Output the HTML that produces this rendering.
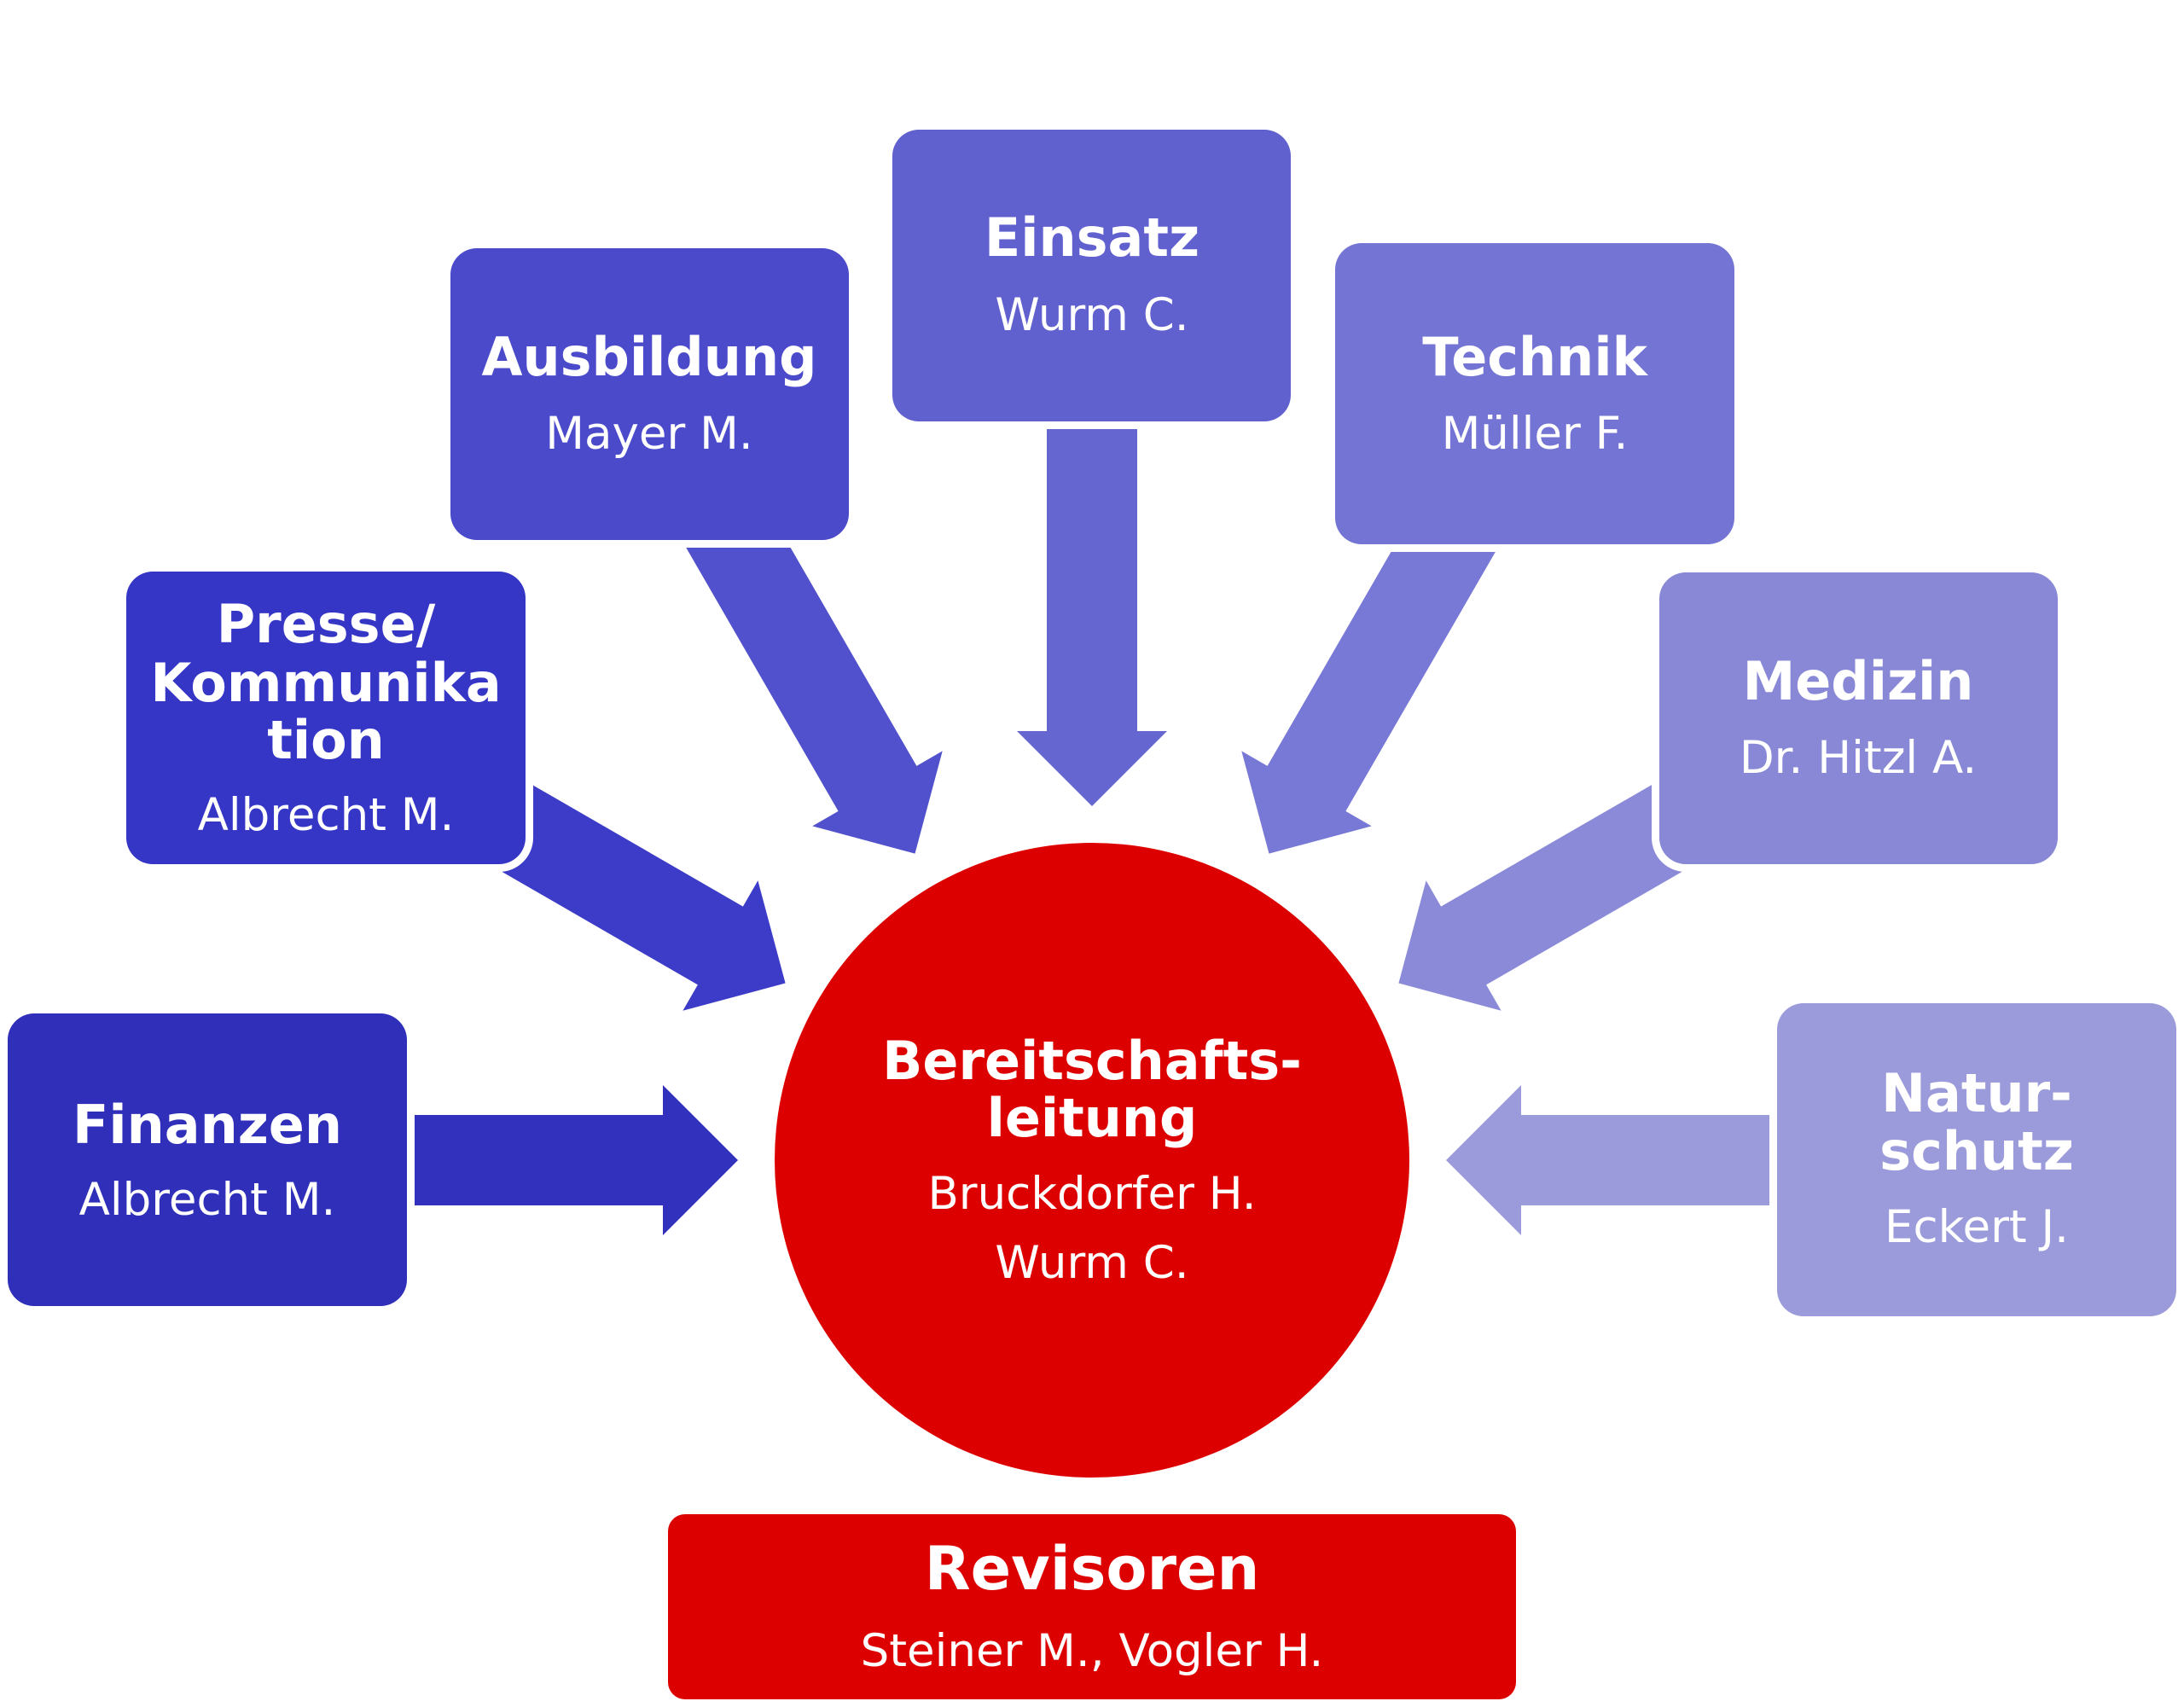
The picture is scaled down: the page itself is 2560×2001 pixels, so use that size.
<!DOCTYPE html>
<html>
<head>
<meta charset="utf-8">
<style>
  html,body{margin:0;padding:0;background:#fff;}
  svg{display:block;}
  .t{font-family:"DejaVu Sans","Liberation Sans",sans-serif;fill:#fff;text-anchor:middle;}
  .b{font-weight:bold;font-size:62px;}
  .n{font-size:53px;}
</style>
</head>
<body>
<svg width="2560" height="2001" viewBox="0 0 2560 2001" xmlns="http://www.w3.org/2000/svg">
  <rect width="2560" height="2001" fill="#fff"/>

  <!-- arrows -->
  <g transform="translate(1280,1360)">
    <polygon transform="rotate(-90)" fill="#3131bd" points="0,-415 88,-503 53,-503 53,-1000 -53,-1000 -53,-503 -88,-503"/>
    <polygon transform="rotate(-60)" fill="#3c3cc8" points="0,-415 88,-503 53,-503 53,-1000 -53,-1000 -53,-503 -88,-503"/>
    <polygon transform="rotate(-30)" fill="#5151cd" points="0,-415 88,-503 53,-503 53,-1000 -53,-1000 -53,-503 -88,-503"/>
    <polygon transform="rotate(0)" fill="#6666d0" points="0,-415 88,-503 53,-503 53,-1000 -53,-1000 -53,-503 -88,-503"/>
    <polygon transform="rotate(30)" fill="#7878d6" points="0,-415 88,-503 53,-503 53,-1000 -53,-1000 -53,-503 -88,-503"/>
    <polygon transform="rotate(60)" fill="#8a8ad8" points="0,-415 88,-503 53,-503 53,-1000 -53,-1000 -53,-503 -88,-503"/>
    <polygon transform="rotate(90)" fill="#9b9bdb" points="0,-415 88,-503 53,-503 53,-1000 -53,-1000 -53,-503 -88,-503"/>
  </g>

  <!-- white outlines of boxes -->
  <g fill="#fff">
    <rect x="0" y="1179" width="486" height="361" rx="40"/>
    <rect x="139" y="661" width="486" height="361" rx="40"/>
    <rect x="519" y="282" width="485" height="360" rx="40"/>
    <rect x="1037" y="143" width="485" height="360" rx="40"/>
    <rect x="1556" y="276" width="486" height="371" rx="40"/>
    <rect x="1936" y="662" width="485" height="360" rx="40"/>
    <rect x="2074" y="1167" width="486" height="385" rx="40"/>
  </g>

  <!-- boxes -->
  <rect x="9" y="1188" width="468" height="343" rx="31" fill="#2f2fba"/>
  <rect x="148" y="670" width="468" height="343" rx="31" fill="#3535c6"/>
  <rect x="528" y="291" width="467" height="342" rx="31" fill="#4a4acb"/>
  <rect x="1046" y="152" width="467" height="342" rx="31" fill="#6060cf"/>
  <rect x="1565" y="285" width="468" height="353" rx="31" fill="#7474d4"/>
  <rect x="1945" y="671" width="467" height="342" rx="31" fill="#8888d6"/>
  <rect x="2083" y="1176" width="468" height="367" rx="31" fill="#9b9bdb"/>

  <!-- circle -->
  <circle cx="1280" cy="1360" r="372" fill="#dd0000"/>

  <!-- Revisoren -->
  <rect x="783" y="1775" width="994" height="217" rx="20" fill="#dd0000"/>

  <!-- texts -->
  <text class="t b" x="243" y="1340">Finanzen</text>
  <text class="t n" x="243" y="1424">Albrecht M.</text>

  <text class="t b" x="382" y="753">Presse/</text>
  <text class="t b" x="382" y="822">Kommunika</text>
  <text class="t b" x="382" y="889">tion</text>
  <text class="t n" x="382" y="973">Albrecht M.</text>

  <text class="t b" x="761" y="440">Ausbildung</text>
  <text class="t n" x="761" y="526">Mayer M.</text>

  <text class="t b" x="1280" y="300">Einsatz</text>
  <text class="t n" x="1280" y="387">Wurm C.</text>

  <text class="t b" x="1799" y="440">Technik</text>
  <text class="t n" x="1799" y="526">Müller F.</text>

  <text class="t b" x="2178" y="820">Medizin</text>
  <text class="t n" x="2178" y="906">Dr. Hitzl A.</text>

  <text class="t b" x="2317" y="1303">Natur-</text>
  <text class="t b" x="2317" y="1371">schutz</text>
  <text class="t n" x="2317" y="1456">Eckert J.</text>

  <text class="t b" x="1280" y="1265">Bereitschafts-</text>
  <text class="t b" x="1280" y="1332">leitung</text>
  <text class="t n" x="1280" y="1417">Bruckdorfer H.</text>
  <text class="t n" x="1280" y="1498">Wurm C.</text>

  <text class="t" x="1280" y="1863" style="font-weight:bold;font-size:70px;">Revisoren</text>
  <text class="t n" x="1280" y="1953">Steiner M., Vogler H.</text>
</svg>
</body>
</html>
